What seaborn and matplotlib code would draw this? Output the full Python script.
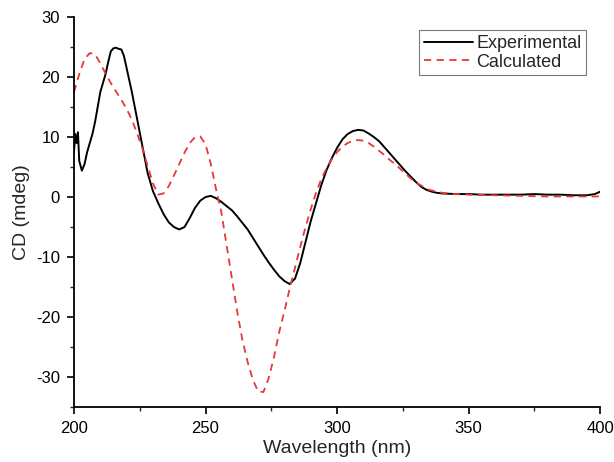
import matplotlib
matplotlib.use("Agg")
import matplotlib.pyplot as plt
import seaborn as sns
import pandas as pd
from matplotlib.ticker import MultipleLocator

# Experimental CD spectrum
exp_wl = [200, 200.5, 201, 201.5, 202, 203, 204, 205, 206, 207, 208, 209, 210, 211, 212, 213,
          214, 215, 216, 217, 218, 219, 220, 222, 224, 226, 228, 230, 232, 234, 236, 238,
          240, 242, 244, 246, 248, 250, 252, 254, 256, 258, 260, 262, 264, 266, 268, 270,
          272, 274, 276, 278, 280, 282, 284, 286, 288, 290, 292, 294, 296, 298, 300, 302,
          304, 306, 308, 310, 312, 314, 316, 318, 320, 322, 324, 326, 328, 330, 332, 334,
          336, 338, 340, 345, 350, 355, 360, 365, 370, 375, 380, 385, 390, 395, 398, 400]
exp_cd = [7.5, 10.5, 9, 10.8, 6, 4.4, 5.5, 7.5, 9, 10.5, 12.5, 15, 17.5, 19, 20.5, 22.5,
          24.3, 24.8, 24.9, 24.7, 24.6, 23.5, 21.5, 17.5, 13, 8.5, 4, 1, -1, -2.8, -4.2, -5,
          -5.4, -5, -3.5, -1.8, -0.6, 0, 0.2, -0.2, -0.8, -1.5, -2.2, -3.2, -4.3, -5.4, -6.8, -8.2,
          -9.6, -10.9, -12.1, -13.2, -14, -14.5, -13.6, -11, -7.5, -4, -1, 2, 4.5, 6.5, 8.2, 9.6,
          10.5, 11, 11.2, 11.1, 10.6, 10, 9.3, 8.3, 7.3, 6.3, 5.3, 4.3, 3.4, 2.5, 1.7, 1.2,
          0.9, 0.7, 0.6, 0.5, 0.5, 0.4, 0.4, 0.4, 0.4, 0.5, 0.4, 0.4, 0.3, 0.3, 0.5, 0.9]

# Calculated CD spectrum
calc_wl = [200, 202, 204, 206, 208, 210, 212, 214, 216, 218, 220, 222, 224, 226, 228, 230,
           232, 234, 236, 238, 240, 242, 244, 246, 248, 250, 252, 254, 256, 258, 260, 262,
           264, 266, 268, 270, 272, 274, 276, 278, 280, 282, 284, 286, 288, 290, 292, 294,
           296, 298, 300, 302, 304, 306, 308, 310, 312, 314, 316, 318, 320, 322, 324, 326,
           328, 330, 335, 340, 345, 350, 360, 370, 380, 390, 400]
calc_cd = [17.5, 20.5, 23, 24, 23.8, 22.3, 20.6, 19, 17.6, 16.2, 14.7, 12.9, 10.6, 8.1, 5.2, 2.3,
           0.4, 0.6, 1.8, 3.6, 5.5, 7.4, 9, 10, 10.1, 8.8, 5.5, 1.3, -2.5, -8, -13.5, -19,
           -23.8, -27.5, -30.5, -32.4, -32.5, -30.2, -26.7, -22.5, -19, -15.2, -11.8, -8.3, -5, -2, 0.7, 3,
           4.8, 6.3, 7.5, 8.4, 9, 9.4, 9.5, 9.4, 9, 8.4, 7.7, 7, 6.2, 5.5, 4.7, 3.9,
           3.1, 2.4, 1.2, 0.7, 0.5, 0.4, 0.3, 0.2, 0.1, 0.1, 0.1]

sns.set_style("ticks")
plt.rcParams['font.family'] = ['Liberation Sans', 'DejaVu Sans']
plt.rcParams['axes.unicode_minus'] = False

df_exp = pd.DataFrame({"wl": exp_wl, "cd": exp_cd})
df_calc = pd.DataFrame({"wl": calc_wl, "cd": calc_cd})

fig = plt.figure(figsize=(6.14, 4.62), dpi=100)
ax = fig.add_axes([0.1205, 0.119, 0.857, 0.844])

sns.lineplot(data=df_exp, x="wl", y="cd", ax=ax, color="black", linewidth=1.4,
             label="Experimental", sort=False)
sns.lineplot(data=df_calc, x="wl", y="cd", ax=ax, color="#e8373a", linewidth=1.3,
             linestyle=(0, (4, 3)), label="Calculated", sort=False)

ax.set_xlim(200, 400)
ax.set_ylim(-35, 30)
ax.xaxis.set_major_locator(MultipleLocator(50))
ax.xaxis.set_minor_locator(MultipleLocator(25))
ax.yaxis.set_major_locator(MultipleLocator(10))
ax.yaxis.set_minor_locator(MultipleLocator(5))
ax.tick_params(which="major", direction="out", length=5, width=1.2, labelsize=12,
               colors="black", pad=5)
ax.tick_params(which="minor", direction="out", length=3, width=1.0)
for s in ["top", "right"]:
    ax.spines[s].set_visible(False)
for s in ["left", "bottom"]:
    ax.spines[s].set_linewidth(1.3)
    ax.spines[s].set_color("black")

ax.set_xlabel("Wavelength (nm)", fontsize=14, labelpad=3)
ax.set_ylabel("CD (mdeg)", fontsize=14, labelpad=4)

leg = ax.legend(loc="upper right", bbox_to_anchor=(0.98, 0.975), fontsize=13,
                frameon=True, fancybox=False, handlelength=2.7, handletextpad=0.2,
                borderpad=0.25, labelspacing=0.1, borderaxespad=0.2)
leg.get_frame().set_edgecolor("#555555")
leg.get_frame().set_linewidth(0.8)

fig.savefig("out.png", dpi=100)
